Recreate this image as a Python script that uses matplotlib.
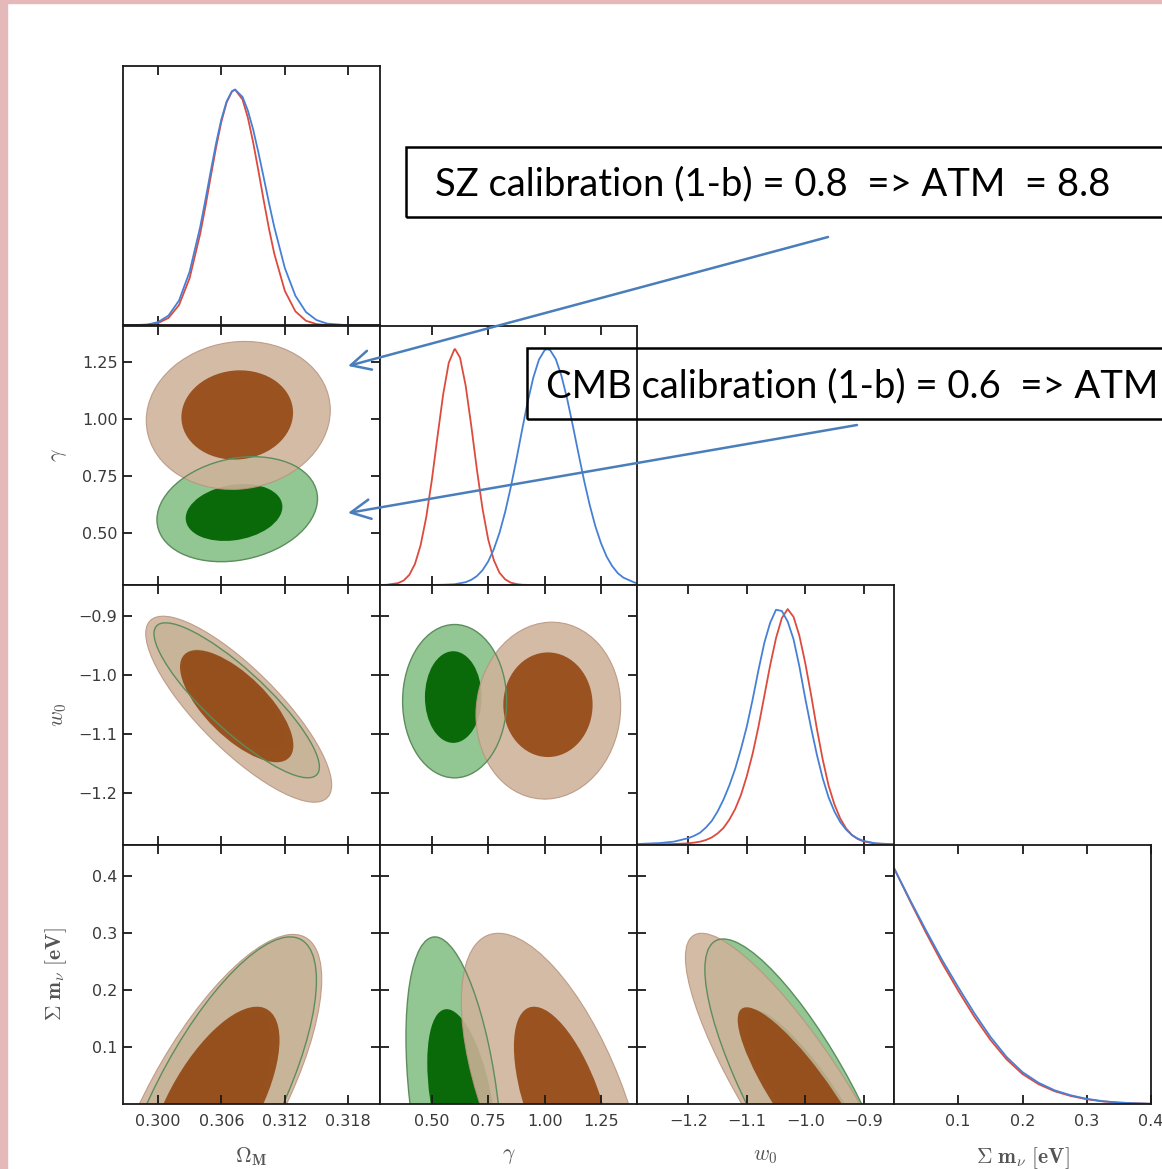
import numpy as np
import matplotlib
matplotlib.use("Agg")
import matplotlib.pyplot as plt
from matplotlib.patches import Circle, Rectangle, FancyArrowPatch
from matplotlib.transforms import Affine2D

plt.rcParams["mathtext.fontset"] = "cm"

# axis ranges and ticks
om_lim = (0.2967, 0.3210)
gam_lim = (0.27, 1.41)
w0_lim = (-1.288, -0.848)
mnu_xlim = (0.0, 0.4)
mnu_ylim = (0.0, 0.456)

om_ticks = [0.300, 0.306, 0.312, 0.318]
gam_ticks = [0.50, 0.75, 1.00, 1.25]
w0_ticks = [-1.2, -1.1, -1.0, -0.9]
mnu_ticks = [0.1, 0.2, 0.3, 0.4]
om_ticklabels = ["0.300", "0.306", "0.312", "0.318"]
gam_ticklabels = ["0.50", "0.75", "1.00", "1.25"]
w0_ticklabels = ["\u22121.2", "\u22121.1", "\u22121.0", "\u22120.9"]
mnu_ticklabels = ["0.1", "0.2", "0.3", "0.4"]

xlabels = [r"$\Omega_{\mathbf{M}}$", r"$\gamma$", r"$w_0$", r"$\Sigma\ \mathbf{m}_\nu\ \mathbf{[eV]}$"]

# 1D marginals (peak normalised to 1); cmb = red, sz = blue
om_x = [0.2967, 0.299, 0.300, 0.301, 0.302, 0.303, 0.304, 0.3045, 0.305, 0.3055, 0.306, 0.3065, 0.307,
        0.3073, 0.308, 0.3085, 0.309, 0.3095, 0.310, 0.3105, 0.311, 0.312, 0.313, 0.314, 0.315, 0.316,
        0.318, 0.321]
om_cmb = [0.0, 0.003, 0.010, 0.032, 0.087, 0.201, 0.389, 0.506, 0.632, 0.755, 0.864, 0.946, 0.992,
          1.0, 0.958, 0.882, 0.778, 0.657, 0.531, 0.411, 0.305, 0.147, 0.060, 0.020, 0.006, 0.0015,
          0.0, 0.0]
om_sz = [0.0, 0.004, 0.014, 0.042, 0.106, 0.228, 0.418, 0.534, 0.655, 0.772, 0.874, 0.950, 0.993,
         1.0, 0.969, 0.912, 0.832, 0.734, 0.628, 0.520, 0.418, 0.244, 0.126, 0.057, 0.023, 0.008,
         0.001, 0.0]

gam_x_cmb = [0.27, 0.30, 0.35, 0.375, 0.40, 0.425, 0.45, 0.475, 0.50, 0.525, 0.55, 0.575, 0.60, 0.603,
             0.625, 0.65, 0.675, 0.70, 0.725, 0.75, 0.775, 0.80, 0.825, 0.85, 0.875, 0.90, 0.95, 1.41]
gam_cmb = [0.0, 0.001, 0.008, 0.019, 0.043, 0.089, 0.168, 0.287, 0.445, 0.629, 0.807, 0.942, 0.999, 1.0,
           0.964, 0.845, 0.674, 0.488, 0.322, 0.193, 0.105, 0.052, 0.024, 0.010, 0.004, 0.001, 0.0, 0.0]
gam_x_sz = [0.27, 0.50, 0.55, 0.60, 0.65, 0.675, 0.70, 0.725, 0.75, 0.775, 0.80, 0.825, 0.85, 0.875, 0.90,
            0.925, 0.95, 0.975, 1.00, 1.012, 1.025, 1.05, 1.075, 1.10, 1.125, 1.15, 1.175, 1.20, 1.225,
            1.25, 1.275, 1.30, 1.325, 1.35, 1.40, 1.41]
gam_sz = [0.0, 0.0002, 0.001, 0.003, 0.012, 0.022, 0.038, 0.063, 0.100, 0.152, 0.221, 0.309, 0.414, 0.532,
          0.656, 0.776, 0.879, 0.955, 0.995, 1.0, 0.995, 0.957, 0.886, 0.790, 0.677, 0.559, 0.444, 0.340,
          0.250, 0.178, 0.121, 0.080, 0.050, 0.031, 0.010, 0.008]

w0_x = [-1.288, -1.25, -1.225, -1.20, -1.19, -1.18, -1.17, -1.16, -1.15, -1.14, -1.13, -1.12, -1.11,
        -1.10, -1.09, -1.08, -1.07, -1.06, -1.05, -1.04, -1.03, -1.02, -1.01, -1.00, -0.99, -0.98,
        -0.97, -0.96, -0.95, -0.94, -0.93, -0.92, -0.91, -0.90, -0.88, -0.848]
w0_sz = [0.002, 0.006, 0.012, 0.027, 0.037, 0.050, 0.072, 0.100, 0.140, 0.190, 0.250, 0.320, 0.405,
         0.500, 0.615, 0.740, 0.855, 0.940, 0.995, 0.990, 0.945, 0.870, 0.755, 0.620, 0.495, 0.380,
         0.280, 0.200, 0.140, 0.095, 0.063, 0.040, 0.025, 0.015, 0.005, 0.001]
w0_cmb = [0.0, 0.001, 0.002, 0.005, 0.008, 0.012, 0.019, 0.030, 0.047, 0.070, 0.105, 0.150, 0.210,
          0.290, 0.385, 0.500, 0.630, 0.760, 0.875, 0.960, 0.998, 0.965, 0.885, 0.770, 0.635, 0.490,
          0.360, 0.250, 0.170, 0.110, 0.068, 0.040, 0.023, 0.013, 0.004, 0.0]

mnu_x = [0.0, 0.025, 0.05, 0.075, 0.1, 0.125, 0.15, 0.175, 0.2, 0.225, 0.25, 0.275, 0.3, 0.325, 0.35,
         0.375, 0.4]
mnu_sz = [1.00, 0.865, 0.735, 0.61, 0.495, 0.385, 0.285, 0.200, 0.135, 0.090, 0.058, 0.037, 0.022,
          0.012, 0.006, 0.003, 0.001]
mnu_cmb = [1.00, 0.86, 0.725, 0.597, 0.48, 0.37, 0.272, 0.19, 0.127, 0.084, 0.054, 0.034, 0.020,
           0.011, 0.006, 0.003, 0.001]

# 2D contours: (centre x, centre y, half-extent x, half-extent y, correlation); [outer, inner]
om_gam_sz = [(0.3076, 1.015, 0.0087, 0.325, 0.07), (0.3075, 1.017, 0.00528, 0.196, 0.05)]
om_gam_cmb = [(0.3075, 0.603, 0.00759, 0.2306, 0.2), (0.3072, 0.5885, 0.00457, 0.125, 0.2)]
om_w0_sz = [(0.30764, -1.0586, 0.00879, 0.1577, -0.814), (0.30745, -1.0535, 0.00536, 0.095, -0.70)]
om_w0_cmb = [(0.30745, -1.0435, 0.00782, 0.1314, -0.86), (0.30710, -1.042, 0.00473, 0.0848, -0.72)]
gam_w0_sz = [(1.0166, -1.061, 0.321, 0.150, 0.05), (1.015, -1.051, 0.198, 0.0887, 0.0)]
gam_w0_cmb = [(0.601, -1.045, 0.2307, 0.130, 0.0), (0.595, -1.038, 0.1257, 0.0777, 0.0)]
om_mnu_sz = [(0.30521, 0.0, 0.01028, 0.298, 0.736), (0.30524, 0.0, 0.00626, 0.171, 0.656)]
om_mnu_cmb = [(0.30540, 0.0, 0.00959, 0.2936, 0.74), (0.30500, 0.0, 0.0058, 0.165, 0.66)]
gam_mnu_sz = [(1.0428, 0.0, 0.412, 0.300, -0.60), (1.082, 0.0, 0.218, 0.171, -0.59)]
gam_mnu_cmb = [(0.599, 0.0, 0.2138, 0.2936, -0.40), (0.6324, 0.0, 0.1527, 0.1667, -0.436)]
w0_mnu_sz = [(-1.0074, 0.0, 0.1977, 0.300, -0.859), (-0.9961, 0.0, 0.1195, 0.170, -0.871)]
w0_mnu_cmb = [(-1.0018, 0.0, 0.170, 0.290, -0.815), (-0.9875, 0.0, 0.113, 0.165, -0.871)]

note_sz = "SZ calibration (1-b) = 0.8  => ATM  = 8.8"
note_cmb = "CMB calibration (1-b) = 0.6  => ATM"

red = "#dc4b3e"
blue = "#4680d6"
green_out, green_in, green_edge = "#92c692", "#0a6a0a", "#5d8d5d"
brown_out, brown_in, brown_edge = "#cfb29a", "#91440e", "#b8957f"
arrow_col = "#4a7ebb"

W, H = 1162, 1169
fig = plt.figure(figsize=(W / 100, H / 100), dpi=100)
col_left = [123, 380, 637, 894]
row_bottom = [325.5, 585, 844.5, 1104]
pw, ph = 257, 259.5

xlims = [om_lim, gam_lim, w0_lim, mnu_xlim]
xticks = [om_ticks, gam_ticks, w0_ticks, mnu_ticks]
xticklabels = [om_ticklabels, gam_ticklabels, w0_ticklabels, mnu_ticklabels]
ylims = [None, gam_lim, w0_lim, mnu_ylim]

diag = {0: (om_x, om_cmb, om_x, om_sz),
        1: (gam_x_cmb, gam_cmb, gam_x_sz, gam_sz),
        2: (w0_x, w0_cmb, w0_x, w0_sz),
        3: (mnu_x, mnu_cmb, mnu_x, mnu_sz)}
pairs = {(1, 0): (om_gam_sz, om_gam_cmb), (2, 0): (om_w0_sz, om_w0_cmb),
         (2, 1): (gam_w0_sz, gam_w0_cmb), (3, 0): (om_mnu_sz, om_mnu_cmb),
         (3, 1): (gam_mnu_sz, gam_mnu_cmb), (3, 2): (w0_mnu_sz, w0_mnu_cmb)}


def contour(ax, c, **kw):
    cx, cy, hx, hy, rho = c
    m = Affine2D(np.array([[hx, 0.0, cx], [rho * hy, hy * np.sqrt(1 - rho ** 2), cy], [0, 0, 1]]))
    ax.add_patch(Circle((0, 0), 1.0, transform=m + ax.transData, **kw))


for r in range(4):
    for c in range(r + 1):
        ax = fig.add_axes([col_left[c] / W, 1 - row_bottom[r] / H, pw / W, ph / H])
        for s in ax.spines.values():
            s.set_linewidth(1.3)
            s.set_color("#1a1a1a")
        if r == c:
            xc, yc, xs, ys = diag[r]
            ax.plot(xc, yc, color=red, lw=1.3)
            ax.plot(xs, ys, color=blue, lw=1.3)
            ax.set_ylim(0, 1.1)
            ax.set_yticks([])
        else:
            sz, cmb = pairs[(r, c)]
            contour(ax, cmb[0], facecolor=green_out, edgecolor="none")
            contour(ax, cmb[1], facecolor=green_in, edgecolor="none")
            contour(ax, sz[0], facecolor=brown_out, edgecolor=brown_edge, lw=0.8, alpha=0.88)
            contour(ax, sz[1], facecolor=brown_in, edgecolor="none", alpha=0.88)
            contour(ax, cmb[0], fill=False, edgecolor=green_edge, lw=1.0)
            ax.set_ylim(*ylims[r])
            ax.set_yticks(xticks[r])
            ax.set_yticklabels(xticklabels[r])
        ax.set_xlim(*xlims[c])
        ax.set_xticks(xticks[c])
        ax.set_xticklabels(xticklabels[c])
        ax.tick_params(direction="in", length=6.7, width=1.3, top=True, right=(r != c),
                       left=(r != c), labelsize=11.5, labelcolor="#3a3a3a", color="#1a1a1a")
        ax.tick_params(axis="x", pad=7)
        ax.tick_params(axis="y", pad=4)
        ax.tick_params(labelbottom=(r == 3), labelleft=(c == 0 and r > 0))
        if r == 3:
            ax.set_xlabel(xlabels[c], fontsize=15.5, color="#555555")
            ax.xaxis.set_label_coords(0.5, -0.16)
        if c == 0 and r > 0:
            ax.set_ylabel(xlabels[r], fontsize=15.5, color="#555555")
            ax.yaxis.set_label_coords(-0.21, 0.5)


def fx(px):
    return px / W


def fy(py):
    return 1 - py / H


# annotation boxes and arrows
fig.add_artist(Rectangle((fx(406), fy(217)), fx(1200) - fx(406), 70 / H, fill=False,
                         edgecolor="black", lw=1.8, transform=fig.transFigure))
fig.add_artist(Rectangle((fx(527), fy(419)), fx(1200) - fx(527), 71 / H, fill=False,
                         edgecolor="black", lw=1.8, transform=fig.transFigure))
note_font = ["Lato", "DejaVu Sans"]
fig.text(fx(435), fy(195), note_sz, fontsize=27.5, va="baseline", ha="left", family=note_font)
fig.text(fx(546), fy(397), note_cmb, fontsize=27.5, va="baseline", ha="left", family=note_font)
for a, b in [((828, 237), (348, 366)), ((857, 425), (348, 513))]:
    fig.add_artist(FancyArrowPatch((fx(a[0]), fy(a[1])), (fx(b[0]), fy(b[1])),
                                   transform=fig.transFigure, arrowstyle="->,head_length=0.7,head_width=0.35",
                                   mutation_scale=20, color=arrow_col, lw=1.8, shrinkA=0, shrinkB=0))

# pink slide border
pink = "#e5b9b9"
fig.add_artist(Rectangle((0, 0), 7 / W, 1, color=pink, transform=fig.transFigure, zorder=10))
fig.add_artist(Rectangle((0, 1 - 3.3 / H), 1, 3.3 / H, color=pink, transform=fig.transFigure, zorder=10))

fig.savefig("out.png", dpi=100)
